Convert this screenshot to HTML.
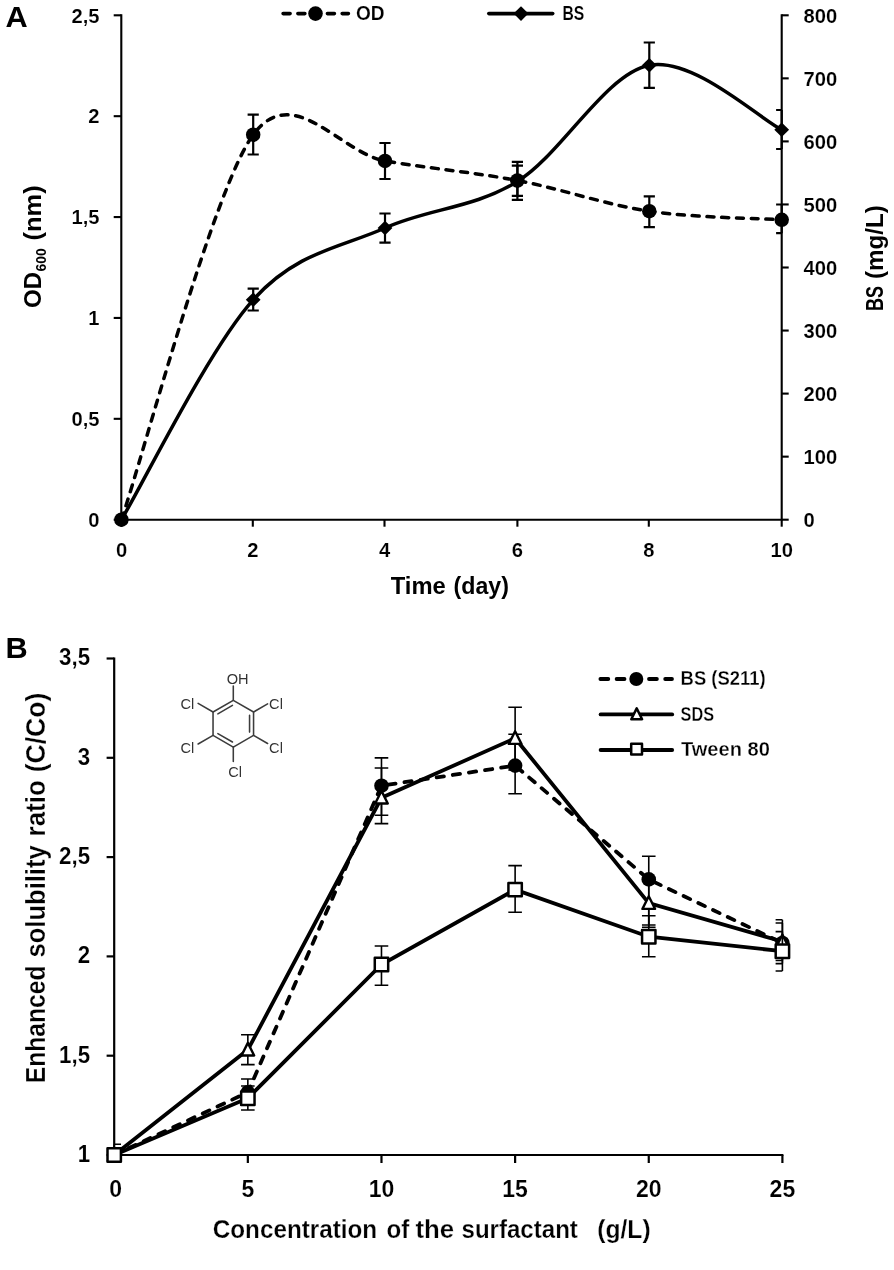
<!DOCTYPE html>
<html lang="en">
<head>
<meta charset="utf-8">
<title>Figure: OD/BS production over time and enhanced solubility ratio</title>
<style>
html,body{margin:0;padding:0;background:#fff;}
body{width:894px;height:1270px;overflow:hidden;}
svg{display:block;}
text{font-family:"Liberation Sans",Arial,sans-serif;}
</style>
</head>
<body>
<svg width="894" height="1270" viewBox="0 0 894 1270">
<rect width="894" height="1270" fill="#fff"/>
<g id="chartA">
<path d="M121.3 14.3V519.7H781.7V14.3" fill="none" stroke="#000" stroke-width="2.1" stroke-linejoin="miter"/>
<path d="M113.7 519.7H121.3" stroke="#000" stroke-width="2.1"/>
<text x="99.6" y="527" font-size="20.2" font-weight="bold" fill="#000" text-anchor="end" stroke="#fff" stroke-width="0.15">0</text>
<path d="M113.7 418.82H121.3" stroke="#000" stroke-width="2.1"/>
<text x="99.6" y="426.12" font-size="20.2" font-weight="bold" fill="#000" text-anchor="end" stroke="#fff" stroke-width="0.15">0,5</text>
<path d="M113.7 317.94H121.3" stroke="#000" stroke-width="2.1"/>
<text x="99.6" y="325.24" font-size="20.2" font-weight="bold" fill="#000" text-anchor="end" stroke="#fff" stroke-width="0.15">1</text>
<path d="M113.7 217.06H121.3" stroke="#000" stroke-width="2.1"/>
<text x="99.6" y="224.36" font-size="20.2" font-weight="bold" fill="#000" text-anchor="end" stroke="#fff" stroke-width="0.15">1,5</text>
<path d="M113.7 116.18H121.3" stroke="#000" stroke-width="2.1"/>
<text x="99.6" y="123.48" font-size="20.2" font-weight="bold" fill="#000" text-anchor="end" stroke="#fff" stroke-width="0.15">2</text>
<path d="M113.7 15.3H121.3" stroke="#000" stroke-width="2.1"/>
<text x="99.6" y="22.6" font-size="20.2" font-weight="bold" fill="#000" text-anchor="end" stroke="#fff" stroke-width="0.15">2,5</text>
<path d="M781.7 519.7H788.7" stroke="#000" stroke-width="2.1"/>
<text x="803.6" y="527" font-size="20.2" font-weight="bold" fill="#000" stroke="#fff" stroke-width="0.15">0</text>
<path d="M781.7 456.65H788.7" stroke="#000" stroke-width="2.1"/>
<text x="803.6" y="463.95" font-size="20.2" font-weight="bold" fill="#000" stroke="#fff" stroke-width="0.15">100</text>
<path d="M781.7 393.6H788.7" stroke="#000" stroke-width="2.1"/>
<text x="803.6" y="400.9" font-size="20.2" font-weight="bold" fill="#000" stroke="#fff" stroke-width="0.15">200</text>
<path d="M781.7 330.55H788.7" stroke="#000" stroke-width="2.1"/>
<text x="803.6" y="337.85" font-size="20.2" font-weight="bold" fill="#000" stroke="#fff" stroke-width="0.15">300</text>
<path d="M781.7 267.5H788.7" stroke="#000" stroke-width="2.1"/>
<text x="803.6" y="274.8" font-size="20.2" font-weight="bold" fill="#000" stroke="#fff" stroke-width="0.15">400</text>
<path d="M781.7 204.45H788.7" stroke="#000" stroke-width="2.1"/>
<text x="803.6" y="211.75" font-size="20.2" font-weight="bold" fill="#000" stroke="#fff" stroke-width="0.15">500</text>
<path d="M781.7 141.4H788.7" stroke="#000" stroke-width="2.1"/>
<text x="803.6" y="148.7" font-size="20.2" font-weight="bold" fill="#000" stroke="#fff" stroke-width="0.15">600</text>
<path d="M781.7 78.35H788.7" stroke="#000" stroke-width="2.1"/>
<text x="803.6" y="85.65" font-size="20.2" font-weight="bold" fill="#000" stroke="#fff" stroke-width="0.15">700</text>
<path d="M781.7 15.3H788.7" stroke="#000" stroke-width="2.1"/>
<text x="803.6" y="22.6" font-size="20.2" font-weight="bold" fill="#000" stroke="#fff" stroke-width="0.15">800</text>
<path d="M121.5 519.7V526.7" stroke="#000" stroke-width="2.1"/>
<text x="121.5" y="557" font-size="20.2" font-weight="bold" fill="#000" text-anchor="middle" stroke="#fff" stroke-width="0.15">0</text>
<path d="M252.8 519.7V526.7" stroke="#000" stroke-width="2.1"/>
<text x="252.8" y="557" font-size="20.2" font-weight="bold" fill="#000" text-anchor="middle" stroke="#fff" stroke-width="0.15">2</text>
<path d="M384.5 519.7V526.7" stroke="#000" stroke-width="2.1"/>
<text x="384.5" y="557" font-size="20.2" font-weight="bold" fill="#000" text-anchor="middle" stroke="#fff" stroke-width="0.15">4</text>
<path d="M517.4 519.7V526.7" stroke="#000" stroke-width="2.1"/>
<text x="517.4" y="557" font-size="20.2" font-weight="bold" fill="#000" text-anchor="middle" stroke="#fff" stroke-width="0.15">6</text>
<path d="M648.8 519.7V526.7" stroke="#000" stroke-width="2.1"/>
<text x="648.8" y="557" font-size="20.2" font-weight="bold" fill="#000" text-anchor="middle" stroke="#fff" stroke-width="0.15">8</text>
<path d="M781.7 519.7V526.7" stroke="#000" stroke-width="2.1"/>
<text x="781.7" y="557" font-size="20.2" font-weight="bold" fill="#000" text-anchor="middle" stroke="#fff" stroke-width="0.15">10</text>
<text transform="translate(0 594)" font-size="24.6" font-weight="bold"><tspan x="390.79" textLength="55.01" lengthAdjust="spacingAndGlyphs">Time</tspan> <tspan x="453.59" textLength="55.31" lengthAdjust="spacingAndGlyphs">(day)</tspan></text>
<text transform="translate(41.3 307) rotate(-90)" font-size="24.6" font-weight="bold"><tspan x="-1" textLength="36" lengthAdjust="spacingAndGlyphs">OD</tspan><tspan x="35.6" dy="4.6" font-size="15" textLength="23.2" lengthAdjust="spacingAndGlyphs">600</tspan><tspan dy="-4.6"> </tspan><tspan x="66.6" textLength="55" lengthAdjust="spacingAndGlyphs">(nm)</tspan></text>
<text transform="translate(882.8 310) rotate(-90)" font-size="24.6" font-weight="bold"><tspan x="-0.91" textLength="25.01" lengthAdjust="spacingAndGlyphs">BS</tspan> <tspan x="31.09" textLength="73.81" lengthAdjust="spacingAndGlyphs">(mg/L)</tspan></text>
<text x="5.6" y="26.6" font-size="29.5" font-weight="bold" fill="#000" textLength="22.2" lengthAdjust="spacingAndGlyphs">A</text>
<path d="M283.1 13.6H348.4" stroke="#000" stroke-width="3.6" stroke-dasharray="7 7.77" stroke-linecap="round" fill="none"/>
<circle cx="315.5" cy="13.6" r="7.3"/>
<text x="356" y="20" font-size="20.2" font-weight="bold" fill="#000" textLength="28.6" lengthAdjust="spacingAndGlyphs" stroke="#fff" stroke-width="0.15">OD</text>
<path d="M488.8 13.6H552.7" stroke="#000" stroke-width="3.6" stroke-linecap="round" fill="none"/>
<path d="M521 6.3L528.4 13.6L521 20.9L513.6 13.6Z"/>
<text x="562.4" y="20" font-size="20.2" font-weight="bold" fill="#000" textLength="21.8" lengthAdjust="spacingAndGlyphs" stroke="#fff" stroke-width="0.15">BS</text>
<path d="M121.4 519.7 C143.37 455.53 213.42 188.85 253.2 134.7 C292.98 80.55 340.97 153.27 385 160.9 C429.03 168.53 473.35 172.12 517.4 180.5 C561.45 188.88 605.25 204.65 649.3 211.2 C693.35 217.75 759.63 218.37 781.7 219.8" fill="none" stroke="#000" stroke-width="3.5" stroke-dasharray="7 7.75" stroke-linecap="round"/>
<path d="M253.2 114.6V154.5 M247.6 114.6H258.8 M247.6 154.5H258.8" fill="none" stroke="#000" stroke-width="2.2"/>
<path d="M385 143V179 M379.4 143H390.6 M379.4 179H390.6" fill="none" stroke="#000" stroke-width="2.2"/>
<path d="M517.4 165.6V195.8 M511.8 165.6H523 M511.8 195.8H523" fill="none" stroke="#000" stroke-width="2.2"/>
<path d="M649.3 196.3V227.2 M643.7 196.3H654.9 M643.7 227.2H654.9" fill="none" stroke="#000" stroke-width="2.2"/>
<path d="M781.7 204.5V233.2 M776.1 204.5H781.7 M776.1 233.2H781.7" fill="none" stroke="#000" stroke-width="2.2"/>
<circle cx="121.4" cy="519.7" r="7.25"/>
<circle cx="253.2" cy="134.7" r="7.25"/>
<circle cx="385" cy="160.9" r="7.25"/>
<circle cx="517.4" cy="180.5" r="7.25"/>
<circle cx="649.3" cy="211.2" r="7.25"/>
<circle cx="781.7" cy="219.8" r="7.25"/>
<path d="M121.4 519.7 C143.37 483.05 209.27 348.42 253.2 299.8 C297.13 251.18 340.97 247.72 385 228 C429.03 208.28 473.35 208.62 517.4 181.5 C561.45 154.38 605.25 73.93 649.3 65.3 C693.35 56.67 759.63 118.97 781.7 129.7" fill="none" stroke="#000" stroke-width="3.5"/>
<path d="M253.2 288.7V310.5 M247.6 288.7H258.8 M247.6 310.5H258.8" fill="none" stroke="#000" stroke-width="2.2"/>
<path d="M385 213.5V242.7 M379.4 213.5H390.6 M379.4 242.7H390.6" fill="none" stroke="#000" stroke-width="2.2"/>
<path d="M517.4 161.8V199.8 M511.8 161.8H523 M511.8 199.8H523" fill="none" stroke="#000" stroke-width="2.2"/>
<path d="M649.3 42.5V87.8 M643.7 42.5H654.9 M643.7 87.8H654.9" fill="none" stroke="#000" stroke-width="2.2"/>
<path d="M781.7 110V149 M776.1 110H781.7 M776.1 149H781.7" fill="none" stroke="#000" stroke-width="2.2"/>
<path d="M121.4 512.5l7.4 7.2l-7.4 7.2l-7.4 -7.2Z"/>
<path d="M253.2 292.6l7.4 7.2l-7.4 7.2l-7.4 -7.2Z"/>
<path d="M385 220.8l7.4 7.2l-7.4 7.2l-7.4 -7.2Z"/>
<path d="M517.4 174.3l7.4 7.2l-7.4 7.2l-7.4 -7.2Z"/>
<path d="M649.3 58.1l7.4 7.2l-7.4 7.2l-7.4 -7.2Z"/>
<path d="M781.7 122.5l7.4 7.2l-7.4 7.2l-7.4 -7.2Z"/>
</g>
<g id="chartB">
<path d="M114.2 657.4V1155H783.4" fill="none" stroke="#000" stroke-width="2.2"/>
<path d="M106.6 1155H114.2" stroke="#000" stroke-width="2.2"/>
<text x="90.1" y="1161.9" font-size="23.2" font-weight="bold" fill="#000" text-anchor="end" textLength="12.4" lengthAdjust="spacingAndGlyphs" stroke="#fff" stroke-width="0.15">1</text>
<path d="M106.6 1055.7H114.2" stroke="#000" stroke-width="2.2"/>
<text x="90.1" y="1062.6" font-size="23.2" font-weight="bold" fill="#000" text-anchor="end" textLength="31" lengthAdjust="spacingAndGlyphs" stroke="#fff" stroke-width="0.15">1,5</text>
<path d="M106.6 956.4H114.2" stroke="#000" stroke-width="2.2"/>
<text x="90.1" y="963.3" font-size="23.2" font-weight="bold" fill="#000" text-anchor="end" textLength="12.4" lengthAdjust="spacingAndGlyphs" stroke="#fff" stroke-width="0.15">2</text>
<path d="M106.6 857.1H114.2" stroke="#000" stroke-width="2.2"/>
<text x="90.1" y="864" font-size="23.2" font-weight="bold" fill="#000" text-anchor="end" textLength="31" lengthAdjust="spacingAndGlyphs" stroke="#fff" stroke-width="0.15">2,5</text>
<path d="M106.6 757.8H114.2" stroke="#000" stroke-width="2.2"/>
<text x="90.1" y="764.7" font-size="23.2" font-weight="bold" fill="#000" text-anchor="end" textLength="12.4" lengthAdjust="spacingAndGlyphs" stroke="#fff" stroke-width="0.15">3</text>
<path d="M106.6 658.5H114.2" stroke="#000" stroke-width="2.2"/>
<text x="90.1" y="665.4" font-size="23.2" font-weight="bold" fill="#000" text-anchor="end" textLength="31" lengthAdjust="spacingAndGlyphs" stroke="#fff" stroke-width="0.15">3,5</text>
<path d="M114.2 1155V1163" stroke="#000" stroke-width="2.2"/>
<text x="115.7" y="1197.2" font-size="23.2" font-weight="bold" fill="#000" text-anchor="middle" textLength="12.8" lengthAdjust="spacingAndGlyphs" stroke="#fff" stroke-width="0.15">0</text>
<path d="M247.84 1155V1163" stroke="#000" stroke-width="2.2"/>
<text x="247.84" y="1197.2" font-size="23.2" font-weight="bold" fill="#000" text-anchor="middle" textLength="12.8" lengthAdjust="spacingAndGlyphs" stroke="#fff" stroke-width="0.15">5</text>
<path d="M381.48 1155V1163" stroke="#000" stroke-width="2.2"/>
<text x="381.48" y="1197.2" font-size="23.2" font-weight="bold" fill="#000" text-anchor="middle" textLength="25.6" lengthAdjust="spacingAndGlyphs" stroke="#fff" stroke-width="0.15">10</text>
<path d="M515.12 1155V1163" stroke="#000" stroke-width="2.2"/>
<text x="515.12" y="1197.2" font-size="23.2" font-weight="bold" fill="#000" text-anchor="middle" textLength="25.6" lengthAdjust="spacingAndGlyphs" stroke="#fff" stroke-width="0.15">15</text>
<path d="M648.76 1155V1163" stroke="#000" stroke-width="2.2"/>
<text x="648.76" y="1197.2" font-size="23.2" font-weight="bold" fill="#000" text-anchor="middle" textLength="25.6" lengthAdjust="spacingAndGlyphs" stroke="#fff" stroke-width="0.15">20</text>
<path d="M782.4 1155V1163" stroke="#000" stroke-width="2.2"/>
<text x="782.4" y="1197.2" font-size="23.2" font-weight="bold" fill="#000" text-anchor="middle" textLength="25.6" lengthAdjust="spacingAndGlyphs" stroke="#fff" stroke-width="0.15">25</text>
<text transform="translate(0 1238.3)" font-size="26.5" font-weight="bold" stroke="#fff" stroke-width="0.25"><tspan x="212.81" textLength="164.38" lengthAdjust="spacingAndGlyphs">Concentration</tspan> <tspan x="386.41" textLength="22.78" lengthAdjust="spacingAndGlyphs">of</tspan> <tspan x="415.51" textLength="38.69" lengthAdjust="spacingAndGlyphs">the</tspan> <tspan x="461.51" textLength="116.39" lengthAdjust="spacingAndGlyphs">surfactant</tspan> <tspan x="597.31" textLength="53.28" lengthAdjust="spacingAndGlyphs">(g/L)</tspan></text>
<text transform="translate(45.3 1082.5) rotate(-90)" font-size="26.8" font-weight="bold" stroke="#fff" stroke-width="0.25"><tspan x="-0.71" textLength="117.71" lengthAdjust="spacingAndGlyphs">Enhanced</tspan> <tspan x="124.99" textLength="112.21" lengthAdjust="spacingAndGlyphs">solubility</tspan> <tspan x="246.09" textLength="56.21" lengthAdjust="spacingAndGlyphs">ratio</tspan> <tspan x="310.29" textLength="79.51" lengthAdjust="spacingAndGlyphs">(C/Co)</tspan></text>
<text x="5.4" y="657.8" font-size="29.5" font-weight="bold" fill="#000" textLength="22.2" lengthAdjust="spacingAndGlyphs">B</text>
<g id="mol" fill="none" stroke="#3c3c3c" stroke-width="1.55" stroke-linecap="round">
<path d="M233.3 700.3 L253.56 712 L253.56 735.4 L233.3 747.1 L213.04 735.4 L213.04 712Z"/>
<path d="M217.87 713.83L232.46 705.4 M249.56 715.28L249.56 732.12 M232.46 742L217.87 733.57"/>
<path d="M233.3 700.3L233.3 685.9 M253.56 712L267.59 703.9 M253.56 735.4L267.59 743.5 M233.3 747.1L233.3 761.5 M213.04 735.4L198.14 744 M213.04 712L198.14 703.4"/>
</g>
<text x="237.7" y="683.6" font-size="14.6" font-weight="normal" fill="#333" text-anchor="middle">OH</text>
<text x="276" y="708.6" font-size="14.6" font-weight="normal" fill="#333" text-anchor="middle">Cl</text>
<text x="276" y="753.4" font-size="14.6" font-weight="normal" fill="#333" text-anchor="middle">Cl</text>
<text x="235.2" y="776.8" font-size="14.6" font-weight="normal" fill="#333" text-anchor="middle">Cl</text>
<text x="187.3" y="753.4" font-size="14.6" font-weight="normal" fill="#333" text-anchor="middle">Cl</text>
<text x="187.3" y="708.6" font-size="14.6" font-weight="normal" fill="#333" text-anchor="middle">Cl</text>
<path d="M600.4 679H672" stroke="#000" stroke-width="3.8" stroke-dasharray="7.9 8.3" stroke-linecap="round" fill="none"/>
<circle cx="636.3" cy="679" r="7"/>
<text x="680.6" y="685.4" font-size="21" font-weight="bold" fill="#000" textLength="85" lengthAdjust="spacingAndGlyphs" stroke="#fff" stroke-width="0.3">BS (S211)</text>
<path d="M600.6 714.4H672.2" stroke="#000" stroke-width="3.8" stroke-linecap="round" fill="none"/>
<path d="M636.7 708.4L642.1 719.2L631.3 719.2Z" fill="#fff" stroke="#000" stroke-width="2.5" stroke-linejoin="round"/>
<text x="680.6" y="721" font-size="21" font-weight="bold" fill="#000" textLength="33.4" lengthAdjust="spacingAndGlyphs" stroke="#fff" stroke-width="0.3">SDS</text>
<path d="M600.6 750H672.2" stroke="#000" stroke-width="3.8" stroke-linecap="round" fill="none"/>
<rect x="631.2" y="743.8" width="10.8" height="10.8" fill="#fff" stroke="#000" stroke-width="2.5" stroke-linejoin="round"/>
<text x="681" y="756" font-size="21" font-weight="bold" fill="#000" textLength="88.8" lengthAdjust="spacingAndGlyphs" stroke="#fff" stroke-width="0.3">Tween 80</text>
<path d="M114.2 1155 L247.84 1092.3 L381.48 785.7 L515.12 765.6 L648.76 879.4 L782.4 943" fill="none" stroke="#000" stroke-width="3.8" stroke-dasharray="7.3 9" stroke-linecap="round" stroke-linejoin="round"/>
<path d="M247.84 1079V1105 M241.04 1079H254.64 M241.04 1105H254.64" fill="none" stroke="#000" stroke-width="1.6"/>
<path d="M381.48 757.9V815.2 M374.68 757.9H388.28 M374.68 815.2H388.28" fill="none" stroke="#000" stroke-width="1.6"/>
<path d="M515.12 734.2V793.7 M508.32 734.2H521.92 M508.32 793.7H521.92" fill="none" stroke="#000" stroke-width="1.6"/>
<path d="M648.76 856.2V927.2 M641.96 856.2H655.56 M641.96 927.2H655.56" fill="none" stroke="#000" stroke-width="1.6"/>
<path d="M782.4 919.8V960.5 M775.6 919.8H782.4 M775.6 960.5H782.4" fill="none" stroke="#000" stroke-width="1.6"/>
<circle cx="114.2" cy="1155" r="7.3"/>
<circle cx="247.84" cy="1092.3" r="7.3"/>
<circle cx="381.48" cy="785.7" r="7.3"/>
<circle cx="515.12" cy="765.6" r="7.3"/>
<circle cx="648.76" cy="879.4" r="7.3"/>
<circle cx="782.4" cy="943" r="7.3"/>
<path d="M114.2 1155 L247.84 1049.8 L381.48 797.8 L515.12 738.2 L648.76 903.2 L782.4 941.5" fill="none" stroke="#000" stroke-width="3.8" stroke-linejoin="miter"/>
<path d="M247.84 1034.8V1064.6 M241.04 1034.8H254.64 M241.04 1064.6H254.64" fill="none" stroke="#000" stroke-width="1.6"/>
<path d="M381.48 768V823.6 M374.68 768H388.28 M374.68 823.6H388.28" fill="none" stroke="#000" stroke-width="1.6"/>
<path d="M515.12 707.3V770 M508.32 707.3H521.92 M508.32 770H521.92" fill="none" stroke="#000" stroke-width="1.6"/>
<path d="M648.76 881V925 M641.96 881H655.56 M641.96 925H655.56" fill="none" stroke="#000" stroke-width="1.6"/>
<path d="M782.4 923V963.6 M775.6 923H782.4 M775.6 963.6H782.4" fill="none" stroke="#000" stroke-width="1.6"/>
<path d="M114.2 1148.1L120.5 1160.7L107.9 1160.7Z" fill="#fff" stroke="#000" stroke-width="2.4" stroke-linejoin="round"/>
<path d="M247.84 1042.9L254.14 1055.5L241.54 1055.5Z" fill="#fff" stroke="#000" stroke-width="2.4" stroke-linejoin="round"/>
<path d="M381.48 790.9L387.78 803.5L375.18 803.5Z" fill="#fff" stroke="#000" stroke-width="2.4" stroke-linejoin="round"/>
<path d="M515.12 731.3L521.42 743.9L508.82 743.9Z" fill="#fff" stroke="#000" stroke-width="2.4" stroke-linejoin="round"/>
<path d="M648.76 896.3L655.06 908.9L642.46 908.9Z" fill="#fff" stroke="#000" stroke-width="2.4" stroke-linejoin="round"/>
<path d="M782.4 934.6L788.7 947.2L776.1 947.2Z" fill="#fff" stroke="#000" stroke-width="2.4" stroke-linejoin="round"/>
<path d="M114.2 1155 L247.84 1098.2 L381.48 964.5 L515.12 889.6 L648.76 936.7 L782.4 951.2" fill="none" stroke="#000" stroke-width="3.8" stroke-linejoin="miter"/>
<path d="M114.2 1144.2V1155 M114.2 1144.2H121 M114.2 1155H121" fill="none" stroke="#000" stroke-width="1.6"/>
<path d="M247.84 1086V1110 M241.04 1086H254.64 M241.04 1110H254.64" fill="none" stroke="#000" stroke-width="1.6"/>
<path d="M381.48 946V985.3 M374.68 946H388.28 M374.68 985.3H388.28" fill="none" stroke="#000" stroke-width="1.6"/>
<path d="M515.12 865.6V912.2 M508.32 865.6H521.92 M508.32 912.2H521.92" fill="none" stroke="#000" stroke-width="1.6"/>
<path d="M648.76 915.7V956.7 M641.96 915.7H655.56 M641.96 956.7H655.56" fill="none" stroke="#000" stroke-width="1.6"/>
<path d="M782.4 931.6V971 M775.6 931.6H782.4 M775.6 971H782.4" fill="none" stroke="#000" stroke-width="1.6"/>
<rect x="107.5" y="1148.3" width="13.4" height="13.4" fill="#fff" stroke="#000" stroke-width="2.5" stroke-linejoin="round"/>
<rect x="241.14" y="1091.5" width="13.4" height="13.4" fill="#fff" stroke="#000" stroke-width="2.5" stroke-linejoin="round"/>
<rect x="374.78" y="957.8" width="13.4" height="13.4" fill="#fff" stroke="#000" stroke-width="2.5" stroke-linejoin="round"/>
<rect x="508.42" y="882.9" width="13.4" height="13.4" fill="#fff" stroke="#000" stroke-width="2.5" stroke-linejoin="round"/>
<rect x="642.06" y="930" width="13.4" height="13.4" fill="#fff" stroke="#000" stroke-width="2.5" stroke-linejoin="round"/>
<rect x="775.7" y="944.5" width="13.4" height="13.4" fill="#fff" stroke="#000" stroke-width="2.5" stroke-linejoin="round"/>
</g>
</svg>
</body>
</html>
